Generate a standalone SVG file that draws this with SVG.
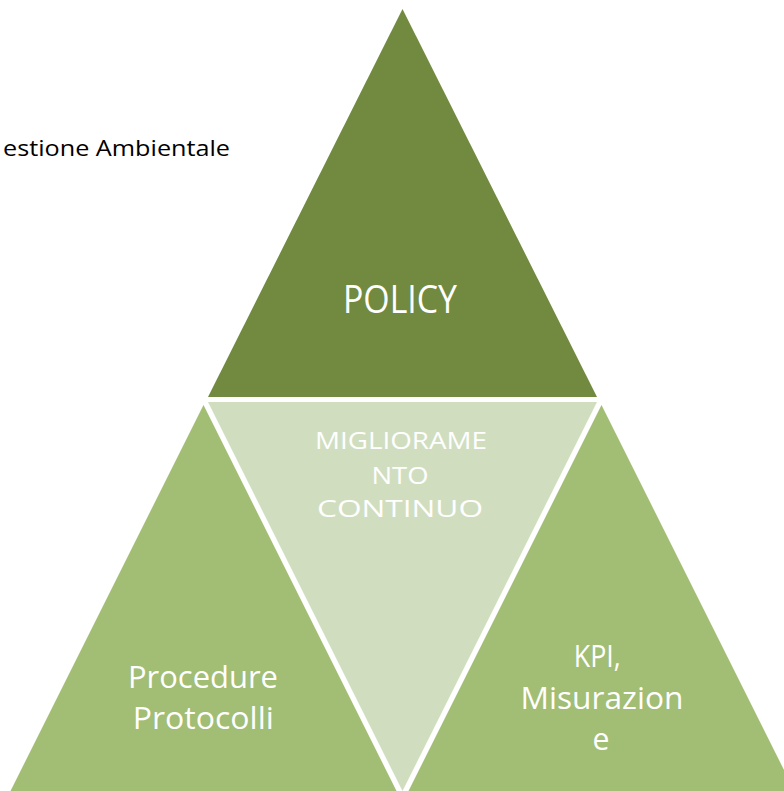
<svg xmlns="http://www.w3.org/2000/svg" width="784" height="791" viewBox="0 0 784 791">
<style>
.t{font-family:"Open Sans","Liberation Sans",Arial,sans-serif;fill:#ffffff;text-anchor:middle}
.dark{fill:#718A3F}
.light{fill:#D0DEBF}
.mid{fill:#A2BD74}
</style>
<rect width="784" height="791" fill="#ffffff"/>
<g id="title">
<text x="3" y="156" font-family="Open Sans, Liberation Sans, Arial, sans-serif" font-size="21" fill="#000000" textLength="227" lengthAdjust="spacingAndGlyphs">estione Ambientale</text>
</g>
<g id="policy">
<polygon class="dark" points="402.5,9 208,397 597,397"/>
<text class="t" x="400" y="312.5" font-size="38" textLength="114" lengthAdjust="spacingAndGlyphs">POLICY</text>
</g>
<g id="miglioramento">
<polygon class="light" points="208,402 597,402 402.5,791"/>
<text class="t" x="401" y="449" font-size="23" textLength="172" lengthAdjust="spacingAndGlyphs">MIGLIORAME</text>
<text class="t" x="400" y="483.5" font-size="23" textLength="57" lengthAdjust="spacingAndGlyphs">NTO</text>
<text class="t" x="400" y="517" font-size="23" textLength="166" lengthAdjust="spacingAndGlyphs">CONTINUO</text>
</g>
<g id="procedure">
<polygon class="mid" points="203.5,405 9,794 398,794"/>
<text class="t" x="203" y="688" font-size="31.5" textLength="150" lengthAdjust="spacingAndGlyphs">Procedure</text>
<text class="t" x="203.3" y="729" font-size="31.5" textLength="141" lengthAdjust="spacingAndGlyphs">Protocolli</text>
</g>
<g id="kpi">
<polygon class="mid" points="601.5,405 407,794 796,794"/>
<text class="t" x="597.3" y="667" font-size="31.5" textLength="47" lengthAdjust="spacingAndGlyphs">KPI,</text>
<text class="t" x="602" y="708.5" font-size="31.5" textLength="163" lengthAdjust="spacingAndGlyphs">Misurazion</text>
<text class="t" x="601" y="750" font-size="31.5" textLength="17" lengthAdjust="spacingAndGlyphs">e</text>
</g>
<g id="connectors"></g>
</svg>
